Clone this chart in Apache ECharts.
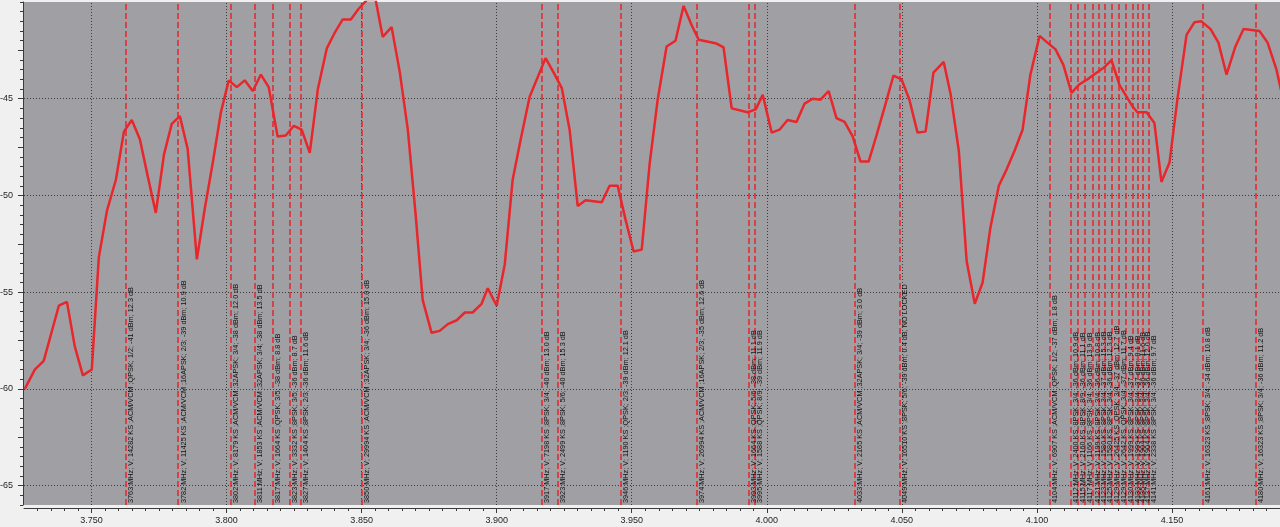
<!DOCTYPE html>
<html><head><meta charset="utf-8">
<style>html,body{margin:0;padding:0;background:#f0f0f0;}#c{width:1280px;height:527px;}</style>
<script src="https://cdn.jsdelivr.net/npm/echarts@6/dist/echarts.min.js"></script>
</head><body><div id="c"></div>
<script>
// Spectrum trace: frequency (GHz) and level (dBm)
const traceFreq = [3.7253,3.7290,3.7323,3.7379,3.7409,3.7438,3.7468,3.7501,3.7527,3.7557,3.7590,3.7620,3.7649,3.7679,3.7708,3.7738,3.7768,3.7797,3.7827,3.7856,3.7890,3.7919,3.7949,3.7979,3.8008,3.8038,3.8067,3.8097,3.8127,3.8156,3.8189,3.8219,3.8249,3.8278,3.8308,3.8338,3.8371,3.8400,3.8430,3.8460,3.8489,3.8519,3.8552,3.8578,3.8611,3.8641,3.8671,3.8700,3.8726,3.8759,3.8789,3.8819,3.8852,3.8882,3.8911,3.8944,3.8967,3.9000,3.9030,3.9059,3.9089,3.9122,3.9181,3.9211,3.9241,3.9270,3.9300,3.9329,3.9359,3.9389,3.9418,3.9448,3.9477,3.9507,3.9537,3.9566,3.9596,3.9629,3.9662,3.9692,3.9722,3.9748,3.9814,3.9840,3.9870,3.9929,3.9959,3.9985,4.0018,4.0047,4.0077,4.0110,4.0140,4.0170,4.0199,4.0229,4.0258,4.0288,4.0318,4.0347,4.0377,4.0406,4.0436,4.0469,4.0499,4.0528,4.0558,4.0588,4.0617,4.0655,4.0681,4.0711,4.0740,4.0770,4.0799,4.0828,4.0859,4.0888,4.0917,4.0947,4.0976,4.1010,4.1039,4.1069,4.1098,4.1128,4.1158,4.1187,4.1217,4.1247,4.1276,4.1306,4.1354,4.1372,4.1406,4.1435,4.1461,4.1491,4.1520,4.1554,4.1583,4.1609,4.1643,4.1672,4.1702,4.1735,4.1765,4.1824,4.1854,4.1887,4.1909];
const traceLevel = [-60.0,-59.0,-58.55,-55.7,-55.5,-57.8,-59.3,-59.0,-53.2,-50.8,-49.2,-46.7,-46.1,-47.1,-49.0,-50.9,-47.9,-46.3,-45.9,-47.6,-53.3,-50.7,-48.3,-45.7,-44.05,-44.4,-44.05,-44.6,-43.75,-44.4,-46.95,-46.9,-46.4,-46.6,-47.8,-44.5,-42.4,-41.6,-40.9,-40.9,-40.35,-39.9,-39.9,-41.8,-41.3,-43.6,-46.6,-51.0,-55.4,-57.1,-57.0,-56.65,-56.45,-56.05,-56.05,-55.6,-54.8,-55.7,-53.55,-49.2,-47.1,-44.9,-42.9,-43.65,-44.45,-46.6,-50.55,-50.25,-50.3,-50.35,-49.5,-49.5,-51.25,-52.9,-52.8,-48.4,-45.05,-42.3,-42.0,-40.2,-41.2,-41.95,-42.15,-42.35,-45.5,-45.7,-45.55,-44.8,-46.75,-46.6,-46.1,-46.2,-45.25,-45.0,-45.05,-44.6,-46.0,-46.2,-46.95,-48.25,-48.25,-46.9,-45.45,-43.8,-44.0,-45.05,-46.75,-46.7,-43.65,-43.1,-44.8,-47.7,-53.4,-55.6,-54.5,-51.65,-49.5,-48.65,-47.7,-46.6,-43.75,-41.75,-42.1,-42.45,-43.25,-44.7,-44.25,-44.0,-43.7,-43.4,-43.0,-44.3,-45.4,-45.7,-45.7,-46.25,-49.3,-48.3,-45.05,-41.7,-41.05,-41.0,-41.4,-42.1,-43.75,-42.3,-41.4,-41.5,-42.1,-43.5,-44.9];

// Carrier markers (MHz) and their annotations
const markerMHz = [3762.7,3782.1,3801.6,3810.5,3817.1,3823.3,3827.5,3850.0,3916.6,3922.6,3945.9,3974.0,3993.3,3995.4,4032.5,4049.2,4104.7,4112.4,4115.0,4117.6,4120.6,4122.8,4125.0,4127.6,4130.2,4132.8,4135.4,4137.2,4139.1,4141.3,4161.3,4180.9];
const markerText = [
 "3763 MHz; V; 14282 KS ;ACM/VCM ;QPSK; 1/2; -41 dBm; 12.3 dB",
 "3782 MHz; V; 11425 KS ;ACM/VCM ;16APSK; 2/3; -39 dBm; 10.9 dB",
 "3802 MHz; V; 8179 KS ;ACM/VCM ;32APSK; 3/4; -38 dBm; 12.0 dB",
 "3811 MHz; V; 1853 KS ;ACM/VCM ;32APSK; 3/4; -38 dBm; 13.5 dB",
 "3817 MHz; V; 1664 KS ;QPSK; 3/5; -38 dBm; 8.8 dB",
 "3823 MHz; V; 3332 KS ;8PSK; 3/5; -36 dBm; 8.7 dB",
 "3827 MHz; V; 1404 KS ;8PSK; 2/3; -36 dBm; 11.6 dB",
 "3850 MHz; V; 29994 KS ;ACM/VCM ;32APSK; 3/4; -36 dBm; 15.0 dB",
 "3917 MHz; V; 7198 KS ;8PSK; 3/4; -40 dBm; 13.0 dB",
 "3923 MHz; V; 2499 KS ;8PSK; 5/6; -40 dBm; 15.3 dB",
 "3946 MHz; V; 1190 KS ;QPSK; 2/3; -39 dBm; 12.1 dB",
 "3974 MHz; V; 26994 KS ;ACM/VCM ;16APSK; 2/3; -35 dBm; 12.6 dB",
 "3993 MHz; V; 1664 KS ;QPSK; 5/6; -38 dBm; 11.1 dB",
 "3995 MHz; V; 1588 KS ;QPSK; 8/9; -39 dBm; 11.9 dB",
 "4033 MHz; V; 2165 KS ;ACM/VCM ;32APSK; 3/4; -39 dBm; 3.0 dB",
 "4049 MHz; V; 16510 KS ;8PSK; 5/6; -39 dBm; 0.4 dB, NO LOCKED",
 "4104 MHz; V; 6907 KS ;ACM/VCM ;QPSK; 1/2; -37 dBm; 1.8 dB",
 "4112 MHz; V; 2400 KS ;8PSK; 3/4; -36 dBm; 10.9 dB",
 "4115 MHz; V; 2160 KS ;8PSK; 8/9; -36 dBm; 11.1 dB",
 "4117 MHz; V; 1166 KS ;8PSK; 3/4; -36 dBm; 13.9 dB",
 "4121 MHz; V; 1199 KS ;8PSK; 3/4; -36 dBm; 10.8 dB",
 "4123 MHz; V; 1580 KS ;8PSK; 3/4; -37 dBm; 15.3 dB",
 "4125 MHz; V; 1580 KS ;8PSK; 3/4; -36 dBm; 12.3 dB",
 "4129 MHz; V; 26425 KS ;QPSK; 3/4; -37 dBm; 12.7 dB",
 "4129 MHz; V; 2642 KS ;QPSK; 3/4; -37 dBm; 11.7 dB",
 "4130 MHz; V; 1999 KS ;8PSK; 3/4; -37 dBm; 9.4 dB",
 "4133 MHz; V; 1999 KS ;8PSK; 3/4; -37 dBm; 9.1 dB",
 "4135 MHz; V; 1904 KS ;8PSK; 3/4; -36 dBm; 11.6 dB",
 "4137 MHz; V; 1904 KS ;8PSK; 3/4; -36 dBm; 12.0 dB",
 "4141 MHz; V; 2338 KS ;8PSK; 3/4; -36 dBm; 9.7 dB",
 "4161 MHz; V; 16323 KS ;8PSK; 3/4; -34 dBm; 10.8 dB",
 "4180 MHz; V; 16323 KS ;8PSK; 3/4; -36 dBm; 11.2 dB"
];

// Axis tick labels
const xTickLabels = [3.75,3.80,3.85,3.90,3.95,4.00,4.05,4.10,4.15];
const yTickLabels = [-65,-60,-55,-50,-45];

const isIn = (arr, v) => arr.some(t => Math.abs(t - v) < 1e-6);
const yMid = yTickLabels.map(v => v + 2.5).concat(yTickLabels);
const FONT = 'Liberation Sans';

const chart = echarts.init(document.getElementById('c'), null, {renderer:'canvas'});
const axisCol = '#3a3a3a';
chart.setOption({
  animation: false,
  backgroundColor: '#f0f0f0',
  grid: {left: 24, right: 0, top: 2, bottom: 22, show: true, backgroundColor: '#a0a0a4', borderWidth: 0,
         containLabel: false, outerBoundsMode: 'none'},
  xAxis: [{
    type: 'value', min: 3.725, max: 4.19, interval: 0.005, offset: 3,
    axisLine: {show: true, lineStyle: {color: axisCol, width: 1}},
    axisTick: {show: true, length: 3, lineStyle: {color: axisCol}},
    splitLine: {show: false},
    axisLabel: {margin: 8, fontSize: 9, fontFamily: FONT, color: '#1e1e1e',
      showMinLabel: false, showMaxLabel: false,
      formatter: v => isIn(xTickLabels, v) ? v.toFixed(3) : ''}
  }, {
    type: 'value', min: 3.725, max: 4.19, interval: 0.005, offset: 3, position: 'bottom',
    axisLine: {show: false},
    axisTick: {show: true, length: 5, customValues: xTickLabels, lineStyle: {color: axisCol}},
    splitLine: {show: false}, axisLabel: {show: false}
  }],
  yAxis: [{
    type: 'value', min: -66, max: -40, interval: 0.5, offset: 1,
    axisLine: {show: true, lineStyle: {color: axisCol, width: 1}},
    axisTick: {show: true, length: 3, lineStyle: {color: axisCol}},
    splitLine: {show: false},
    axisLabel: {margin: 10, fontSize: 9, fontFamily: FONT, color: '#1e1e1e',
      formatter: v => isIn(yTickLabels, v) ? String(v) : ''}
  }, {
    type: 'value', min: -66, max: -40, interval: 0.5, offset: 1, position: 'left',
    axisLine: {show: false},
    axisTick: {show: true, length: 5, customValues: yMid, lineStyle: {color: axisCol}},
    splitLine: {show: false}, axisLabel: {show: false}
  }],
  series: [{
    type: 'line', data: [], silent: true, z: 1,
    markLine: {
      silent: true, symbol: ['none','none'], animation: false, precision: 4,
      lineStyle: {type: [1, 2], color: '#3c3c3c', width: 1},
      label: {show: false},
      data: xTickLabels.map(v => ({xAxis: v})).concat(yTickLabels.map(v => ({yAxis: v})))
    }
  }, {
    type: 'line', data: [], silent: true, z: 2,
    markLine: {
      silent: true, symbol: ['none','none'], animation: false, precision: 5,
      lineStyle: {type: [6, 3], color: '#e2262c', width: 1.5},
      label: {show: true, position: 'insideStartBottom', formatter: '{b}', fontSize: 7.3,
        fontFamily: FONT, color: '#111111', distance: [2, 2]},
      emphasis: {disabled: true},
      data: markerMHz.map((m, i) => ({xAxis: m / 1000, name: markerText[i]}))
    }
  }, {
    type: 'line', z: 5, symbol: 'none', smooth: false, clip: true,
    lineStyle: {color: '#e8262b', width: 2.5},
    data: traceFreq.map((f, i) => [f, traceLevel[i]])
  }]
});
</script></body></html>
